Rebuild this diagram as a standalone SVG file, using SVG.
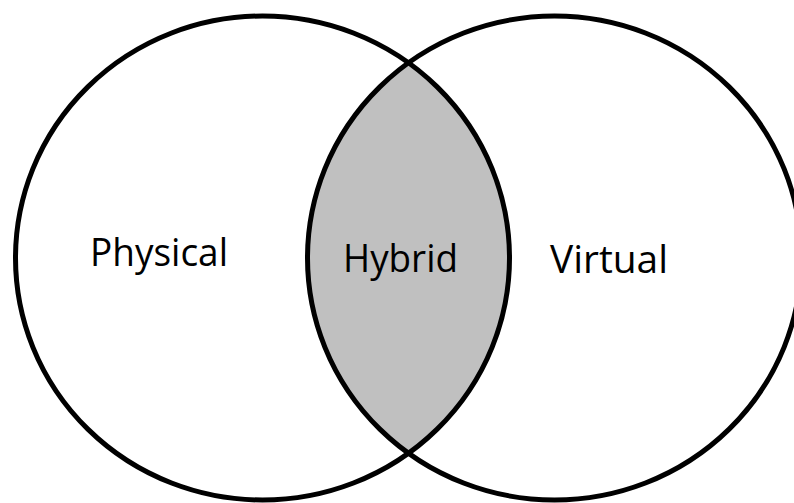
<svg xmlns="http://www.w3.org/2000/svg" width="794" height="503" viewBox="0 0 794 503">
  <style>
    .ring { fill: none; stroke: #000; stroke-width: 5; }
    .overlap { fill: #c0c0c0; stroke: none; }
    .label { font-family: "Open Sans", "Liberation Sans", sans-serif; font-size: 38px; fill: #000; }
  </style>
  <rect width="794" height="503" fill="#fff"/>
  <g id="hybrid">
    <!-- lens where the two sets overlap -->
    <path class="overlap" d="M 408.5 62.5 A 247 242 0 0 1 408.5 453.5 A 247 242 0 0 1 408.5 62.5 Z"/>
    <text class="label" x="343" y="272" textLength="115" lengthAdjust="spacingAndGlyphs">Hybrid</text>
  </g>
  <g id="physical">
    <ellipse class="ring" cx="262.5" cy="258" rx="247" ry="242"/>
    <text class="label" x="90" y="266" textLength="138" lengthAdjust="spacingAndGlyphs">Physical</text>
  </g>
  <g id="virtual">
    <ellipse class="ring" cx="554.5" cy="258" rx="247" ry="242"/>
    <text class="label" x="550" y="273" textLength="118" lengthAdjust="spacingAndGlyphs">Virtual</text>
  </g>
</svg>
